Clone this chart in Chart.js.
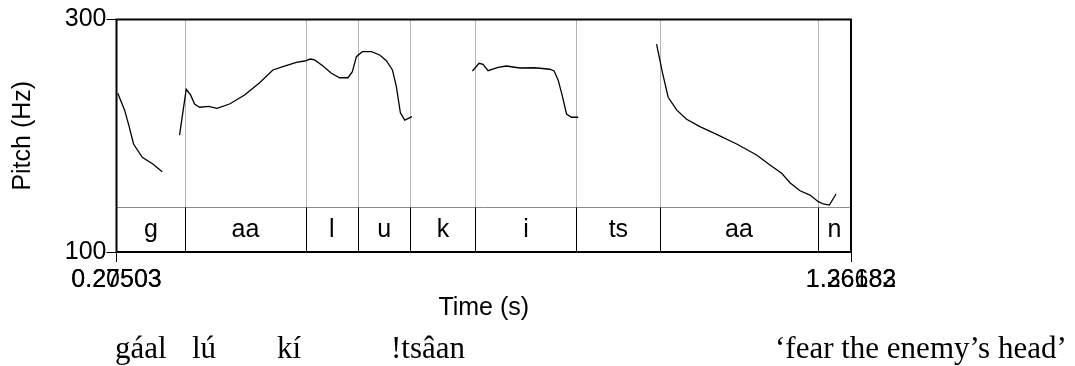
<!DOCTYPE html>
<html>
<head>
<meta charset="utf-8">
<script src="https://cdn.jsdelivr.net/npm/chart.js"></script>
<style>
  html, body { margin: 0; padding: 0; background: #fff; }
  #grafica1 { display: block; }
</style>
</head>
<body>
<canvas id="grafica1" width="1075" height="366"></canvas>
<script>
// pitch track, time (s) and F0 (Hz); null = unvoiced gap
const pitchTimes = [
  0.2767, 0.2858, 0.2915, 0.2979, 0.3096, 0.3238, 0.3364,
  0.348,
  0.3597, 0.3687, 0.3745, 0.3799, 0.3866, 0.3991, 0.4098, 0.4269, 0.4471, 0.4673,
  0.4851, 0.4986, 0.5166, 0.5278, 0.5354, 0.5412, 0.5524, 0.5637, 0.5748, 0.5860,
  0.5919, 0.5973, 0.6053, 0.6174, 0.6286, 0.6376, 0.6457, 0.6510, 0.6564, 0.6622, 0.6720,
  0.71,
  0.7532, 0.7621, 0.7675, 0.7742, 0.7876, 0.7989, 0.8168, 0.8370, 0.8571, 0.8629,
  0.8683, 0.8742, 0.8796, 0.8863, 0.8952,
  0.95,
  1.0006, 1.0087, 1.0162, 1.0275, 1.0409, 1.0588, 1.0813, 1.1082, 1.1350, 1.1529,
  1.1687, 1.1798, 1.1933, 1.2067, 1.2179, 1.2246, 1.2327, 1.2417
];
const pitchHz = [
  236.5, 222.2, 209.2, 192.9, 181.5, 175.7, 169.1,
  null,
  200.6, 240.0, 235.1, 227.3, 224.5, 225.3, 223.6, 227.3, 235.1, 245.6,
  256.6, 259.4, 263.2, 264.3, 266.0, 265.2, 260.0, 253.7, 249.9, 249.9,
  255.1, 268.0, 272.3, 272.3, 269.5, 264.6, 256.6, 242.2, 219.8, 213.5, 216.4,
  null,
  255.7, 262.3, 261.5, 256.0, 258.9, 260.0, 258.3, 258.5, 257.2, 255.7,
  248.0, 233.6, 218.7, 215.9, 215.9,
  null,
  278.9, 253.7, 233.1, 222.2, 214.2, 207.8, 201.2, 192.9, 183.4, 174.8,
  167.7, 159.6, 152.7, 149.0, 143.3, 141.3, 140.4, 149.9
];

// textgrid tier
const tierBounds = [0.275, 0.3674, 0.5291, 0.5994, 0.6699, 0.7573, 0.8930, 1.0055, 1.2171, 1.2618];
const tierLabels = ["g", "aa", "l", "u", "k", "i", "ts", "aa", "n"];

const timeRange = [0.275, 1.2618];
const pitchRange = [100, 300];
const xTickLabels = [["0.27503", "0.20503"], ["1.26182", "1.36683"]];

const glossWords = ["gáal", "lú", "kí", "!tsâan", "‘fear the enemy’s head’"];

const SANS = "'Liberation Sans', Arial, sans-serif";
const SERIF = "'Liberation Serif', 'Times New Roman', serif";
const TIER_FRACTION = 0.195;
const glossX = [115, 192, 277, 391, 775];

function linea(ctx, x1, y1, x2, y2) {
  ctx.beginPath();
  ctx.moveTo(x1, y1);
  ctx.lineTo(x2, y2);
  ctx.stroke();
}

const praatPlugin = {
  id: "praat",
  beforeDatasetsDraw(chart) {
    const { ctx, chartArea: a, scales: { x } } = chart;
    const tierTop = Math.round(a.bottom - TIER_FRACTION * (a.bottom - a.top)) + 0.5;
    ctx.save();
    ctx.lineWidth = 1;
    ctx.strokeStyle = "#b4b4b4";
    tierBounds.slice(1, -1).forEach((b) => {
      const px = Math.round(x.getPixelForValue(b)) + 0.5;
      linea(ctx, px, a.top, px, tierTop);
    });
    ctx.strokeStyle = "#8c8c8c";
    linea(ctx, a.left, tierTop, a.right, tierTop);
    ctx.restore();
  },
  afterDraw(chart) {
    const { ctx, chartArea: a, scales: { x } } = chart;
    const tierTop = Math.round(a.bottom - TIER_FRACTION * (a.bottom - a.top)) + 0.5;
    ctx.save();
    // tier boundaries + labels
    ctx.strokeStyle = "#000";
    ctx.lineWidth = 1;
    tierBounds.slice(1, -1).forEach((b) => {
      const px = Math.round(x.getPixelForValue(b)) + 0.5;
      linea(ctx, px, tierTop, px, a.bottom);
    });
    ctx.fillStyle = "#000";
    ctx.font = "25px " + SANS;
    ctx.textAlign = "center";
    ctx.textBaseline = "middle";
    tierLabels.forEach((lab, i) => {
      const cx = (x.getPixelForValue(tierBounds[i]) + x.getPixelForValue(tierBounds[i + 1])) / 2;
      ctx.fillText(lab, cx, (tierTop + a.bottom) / 2);
    });
    // frame
    ctx.lineWidth = 2;
    ctx.strokeRect(a.left, a.top, a.right - a.left, a.bottom - a.top);
    // x end labels (two overlapping strings each)
    ctx.textBaseline = "alphabetic";
    [timeRange[0], timeRange[1]].forEach((t, i) => {
      const px = x.getPixelForValue(t);
      xTickLabels[i].forEach((s) => ctx.fillText(s, px, 287));
    });
    // gloss line
    ctx.font = "31px " + SERIF;
    ctx.textAlign = "left";
    glossWords.forEach((w, i) => ctx.fillText(w, glossX[i], 358));
    ctx.restore();
  }
};

const ctx = document.getElementById("grafica1");

new Chart(ctx, {
  type: "line",
  data: {
    datasets: [
      {
        data: pitchTimes.map((t, i) => ({ x: t, y: pitchHz[i] })),
        borderColor: "#000",
        borderWidth: 1.3,
        pointRadius: 0,
        tension: 0,
        spanGaps: false,
      },
    ],
  },
  options: {
    responsive: false,
    animation: false,
    layout: { padding: { top: 19.5, right: 224, bottom: 0, left: 0 } },
    plugins: { legend: { display: false }, tooltip: { enabled: false } },
    scales: {
      x: {
        type: "linear",
        min: timeRange[0],
        max: timeRange[1],
        afterBuildTicks: (s) => { s.ticks = [{ value: timeRange[0] }, { value: timeRange[1] }]; },
        afterFit: (s) => { s.height = 114; },
        ticks: { display: false },
        grid: { drawOnChartArea: false, drawTicks: true, tickLength: 10, color: "#000" },
        border: { display: false },
        title: {
          display: true,
          text: "Time (s)",
          color: "#000",
          font: { family: SANS, size: 25 },
          padding: { top: 0, bottom: 43 },
        },
      },
      y: {
        min: pitchRange[0],
        max: pitchRange[1],
        afterBuildTicks: (s) => { s.ticks = pitchRange.map((v) => ({ value: v })); },
        afterFit: (s) => { s.width = 116.5; },
        ticks: { color: "#000", font: { family: SANS, size: 25 }, padding: 0 },
        grid: { drawOnChartArea: false, drawTicks: true, tickLength: 10, color: "#000" },
        border: { display: false },
        title: {
          display: true,
          text: "Pitch (Hz)",
          color: "#000",
          font: { family: SANS, size: 25 },
          padding: { top: 8, bottom: 0 },
        },
      },
    },
  },
  plugins: [praatPlugin],
});
</script>
</body>
</html>
